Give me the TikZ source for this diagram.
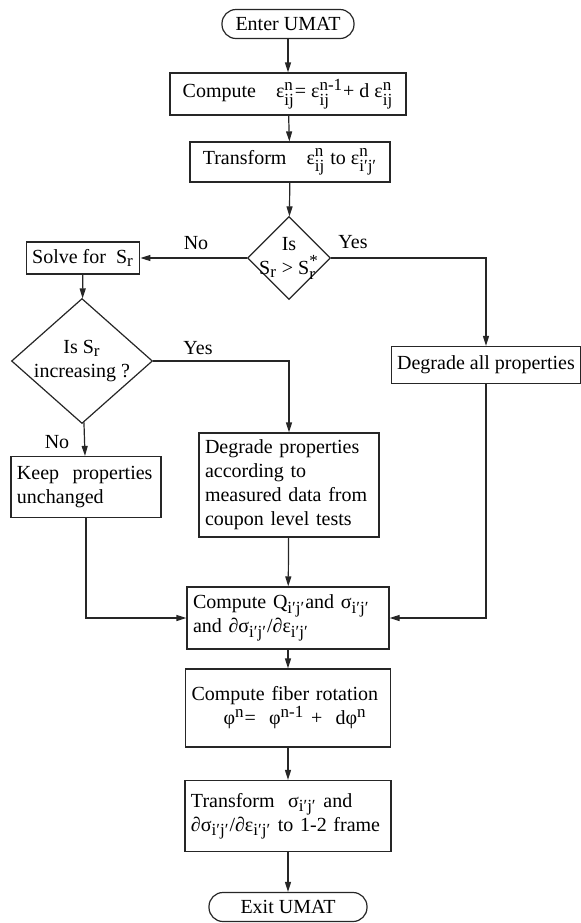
\documentclass[tikz,border=0pt]{standalone}
\usepackage{amsmath}
\usepackage{fontspec}
\setmainfont{Liberation Serif}
\DeclareMathSizes{10}{10}{8.5}{7}
\usetikzlibrary{arrows.meta,shapes.geometric}
\newcommand{\updn}[2]{$^{\text{#1}}_{\text{#2}}$}
\newcommand{\upr}[1]{$^{\text{#1}}$}
\newcommand{\lowr}[1]{$_{\text{#1}}$}
\tikzset{
  box/.style={rectangle, draw=black!85, line width=0.6pt, fill=white, inner sep=3pt,
              align=center, font=\fontsize{10}{12}\selectfont},
  lbox/.style={box, align=left},
  term/.style={box, rounded corners=7pt, minimum height=14.5pt},
  dec/.style={diamond, draw=black!85, line width=0.6pt, fill=white, inner sep=-5pt,
              align=center, font=\fontsize{10}{12}\selectfont},
  ar/.style={-{Triangle[length=5pt,width=3pt]}, line width=0.6pt, draw=black!85},
  lbl/.style={font=\fontsize{10}{12}\selectfont},
}

\begin{document}
\begin{tikzpicture}[x=0.5pt, y=-0.5pt]
\useasboundingbox (0,0) rectangle (580,923);

%% =====================================================================
%% main column
%% =====================================================================
\node[term] (enter) at (288,24) [minimum width=66pt] {Enter UMAT};
\node[box] (strain) at (288,94) [minimum width=118pt, minimum height=21pt]
  {Compute\quad ε\updn{n}{ij}= ε\updn{n-1}{ij}+ d ε\updn{n}{ij}};
\node[box] (rotstrain) at (290,162) [minimum width=100pt, minimum height=20pt]
  {Transform\quad ε\updn{n}{ij} to ε\updn{n}{i′j′}};
\node[dec] (crit) at (289,258) [minimum width=41.5pt, minimum height=41.5pt]
  {Is\\S\lowr{r} > S\updn{*}{r}};

%% left branch: residual strength
\node[box] (solve) at (83,258) [minimum width=55pt, minimum height=16pt] {Solve for\ \ S\lowr{r}};
\node[dec] (incr) at (82,361) [minimum width=70.5pt, minimum height=62.5pt, inner sep=-3pt]
  {Is S\lowr{r}\\increasing ?};
\node[lbox] (keep) at (86,487) [text width=69pt, minimum height=30.5pt]
  {Keep\ \ properties\\unchanged};
\node[lbox] (degpart) at (289,485) [text width=84pt, minimum height=52pt]
  {Degrade properties\\according to\\measured data from\\coupon level tests};

%% right branch
\node[box] (degall) at (486,365) [minimum width=91.5pt, minimum height=18.5pt]
  {Degrade all properties};

%% lower column
\node[lbox] (stiff) at (288,618) [text width=95pt, minimum height=31pt]
  {Compute Q\lowr{i′j′}and σ\lowr{i′j′}\\ and ∂σ\lowr{i′j′}/∂ε\lowr{i′j′}};
\node[lbox] (fiber) at (288,708) [text width=96.5pt, minimum height=39pt]
  {Compute fiber rotation\\\hspace{16pt}φ\upr{n}=\ \ φ\upr{n-1}\ + \ dφ\upr{n}};
\node[lbox] (back) at (288,816) [text width=97pt, minimum height=35.5pt]
  {Transform\ \ σ\lowr{i′j′}\ and\\∂σ\lowr{i′j′}/∂ε\lowr{i′j′}\ to 1-2 frame};
\node[term] (exit) at (288,907) [minimum width=79pt] {Exit UMAT};

%% connectors
\draw[ar] (enter) -- (strain);
\draw[ar] (strain) -- (rotstrain);
\draw[ar] (rotstrain) -- (crit);
\draw[ar] (crit) -- (solve);
\draw[ar] (crit.east) -| (degall.north);
\draw[ar] (solve) -- (incr);
\draw[ar] (incr.east) -| (degpart.north);
\draw[ar] (incr) -- (keep);
\draw[ar] (keep.south) |- (stiff.west);
\draw[ar] (degpart) -- (stiff);
\draw[ar] (degall.south) |- (stiff.east);
\draw[ar] (stiff) -- (fiber);
\draw[ar] (fiber) -- (back);
\draw[ar] (back) -- (exit);

%% branch labels
\node[lbl] (no1) at (196,243) {No};
\node[lbl] (yes1) at (353,242) {Yes};
\node[lbl] (yes2) at (198,348) {Yes};
\node[lbl] (no2) at (57,442) {No};

\end{tikzpicture}
\end{document}
